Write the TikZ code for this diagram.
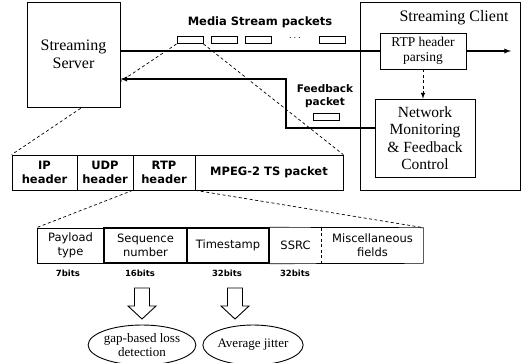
\documentclass[tikz,border=0pt]{standalone}
\usepackage{fontspec}
\setmainfont{Liberation Serif}
\newfontfamily\verd{DejaVu Sans}
\usetikzlibrary{arrows}
\usetikzlibrary{shapes.geometric}

\begin{document}
\begin{tikzpicture}[x=1pt, y=-1pt, >=latex]
	\tikzstyle{box} = [draw, fill=white, rectangle, line width=0.7pt, inner sep=0pt, align=center, font={\fontsize{15.5}{17.5}\selectfont}]
	\tikzstyle{pkt} = [draw, fill=white, rectangle, line width=0.9pt, inner sep=0pt, minimum width=26, minimum height=7]
	\tikzstyle{bsans} = [align=center, inner sep=0pt, font={\verd\bfseries\fontsize{10.5}{13}\selectfont}]
	\tikzstyle{hdr} = [draw, fill=white, rectangle, line width=0.7pt, inner sep=0pt, minimum height=35, align=center, font={\verd\bfseries\fontsize{11.5}{14}\selectfont}]
	\tikzstyle{cell} = [draw, fill=white, rectangle, line width=0.7pt, inner sep=0pt, minimum height=35, align=center, font={\verd\fontsize{11.5}{14}\selectfont}]
	\tikzstyle{bits} = [inner sep=0pt, font={\verd\bfseries\fontsize{8.5}{10}\selectfont}]
	\tikzstyle{oval} = [draw, ellipse, line width=0.9pt, inner sep=0pt, align=center, font={\fontsize{13}{14}\selectfont}]
	\tikzstyle{dsh} = [dashed, dash pattern=on 3pt off 2.5pt, line width=0.7pt]
	\tikzstyle{strm} = [line width=1.3pt]

	\useasboundingbox (0,0) rectangle (524,362);

	\node[box, minimum width=160, minimum height=188] (cli) at (440,96) {};
	\node[inner sep=0pt, font={\fontsize{16}{18}\selectfont}] (clil) at (454,18) {Streaming Client};
	\node[box, minimum width=86, minimum height=36, font={\fontsize{13.5}{15}\selectfont}] (parse) at (423,51) {RTP header\\parsing};
	\node[box, minimum width=100, minimum height=78] (net) at (425,138) {Network\\Monitoring\\\& Feedback\\Control};

	\node[hdr, minimum width=65] (ip) at (44.5,172.5) {IP\\header};
	\node[hdr, minimum width=56] (udp) at (105,172.5) {UDP\\header};
	\node[hdr, minimum width=62] (rtp) at (164,172.5) {RTP\\header};
	\node[hdr, minimum width=148] (mpeg) at (269,172.5) {MPEG-2 TS packet};

	\foreach \x/\n in {190/1,224/2,258/3,332/4}
		\node[pkt] (pk\n) at (\x,40) {};
	\node[inner sep=0pt, font=\bfseries] (dots) at (295,38) {$\cdots$};
	\node[bsans, font={\verd\bfseries\fontsize{11.5}{13}\selectfont}] (msl) at (260,22) {Media Stream packets};
	\node[bsans] (fpl) at (325,96) {Feedback\\packet};
	\node[pkt] (fpk) at (326,117) {};

	\draw[dsh] (pk1.south west) -- (ip.north west);
	\draw[dsh] (pk1.south east) -- (mpeg.north east);

	\node[box, minimum width=93, minimum height=105, font={\fontsize{16}{18}\selectfont}] (srv) at (73.5,54.5) {Streaming\\Server};

	\draw[strm] (srv.east |- parse.west) -- (parse.west);
	\coordinate (out) at (511,51);
	\draw[strm,->] (parse.east) -- (out);
	\coordinate (fbk) at (286,79);
	\draw[strm,->] ([yshift=10pt]net.west) -| (fbk) -- (srv.east |- fbk);
	\draw[dsh, line width=1pt, ->] (parse.south) -- (parse.south |- net.north);

	\node[cell, minimum width=67] (pt) at (70.5,245.5) {Payload\\type};
	\node[cell, minimum width=83, line width=1.4pt] (seq) at (145.5,245.5) {Sequence\\number};
	\node[cell, minimum width=82, line width=1.4pt] (ts) at (228,245.5) {Timestamp};
	\node[cell, draw=none, fill=none, minimum width=53] (ssrc) at (295.5,245.5) {SSRC};
	\node[cell, draw=none, fill=none, minimum width=101] (misc) at (372.5,245.5) {Miscellaneous\\fields};
	\draw[line width=0.7pt] (ts.north east) -- (misc.north east) -- (misc.south east) -- (ts.south east);
	\draw[dsh] (misc.north west) -- (misc.south west);

	\draw[dsh] (rtp.south west) -- (pt.north west);
	\draw[dsh] (rtp.south east) -- (misc.north east);

	\node[bits] (b1) at (68,273) {7bits};
	\node[bits] (b2) at (140,273) {16bits};
	\node[bits] (b3) at (227,273) {32bits};
	\node[bits] (b4) at (295,273) {32bits};

	\foreach \x in {142,235}
		\draw[line width=0.9pt] (\x-7.5,288) -- ++(15,0) -- ++(0,18) -- ++(6.5,0) -- (\x,319) -- (\x-14,306) -- ++(6.5,0) -- cycle;

	\node[oval, minimum width=106, minimum height=40] (gap) at (142,345) {gap-based loss\\detection};
	\node[oval, minimum width=97, minimum height=40] (jit) at (253,345) {Average jitter};
\end{tikzpicture}
\end{document}
